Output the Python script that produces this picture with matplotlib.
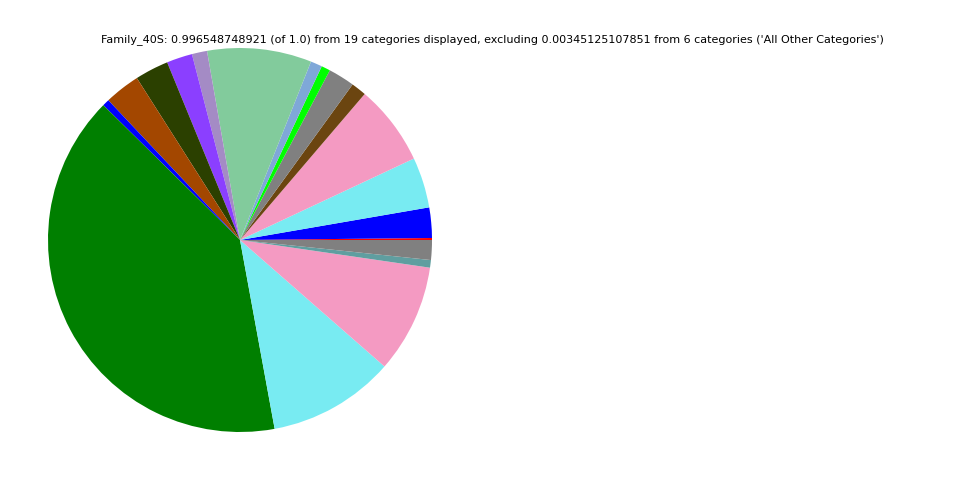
import matplotlib
matplotlib.use("Agg")
import matplotlib.pyplot as plt

# wedge sizes (degrees, normalised by the pie)
categories = ["c1", "c2", "c3", "c4", "c5", "c6", "c7", "c8", "c9", "c10",
              "c11", "c12", "c13", "c14", "c15", "c16", "c17", "c18", "c19"]
values = [0.6, 9.2, 15.3, 24.4, 4.6, 8.0, 2.7, 3.5, 31.6, 4.6,
          7.8, 10.2, 10.8, 2.1, 145.0, 38.4, 32.9, 2.3, 6.0]
colors = ["#ff0000", "#0000ff", "#78ebf2", "#f49ac2", "#6b4510", "#808080",
          "#00ff00", "#7fa8d8", "#82cb9c", "#a48bc5", "#8b3fff", "#2b4000",
          "#a34700", "#0000ff", "#007f00", "#78ebf2", "#f49ac2", "#5f9ea0",
          "#808080"]
title = ("Family_40S: 0.996548748921 (of 1.0) from 19 categories displayed, "
         "excluding 0.00345125107851 from 6 categories ('All Other Categories')")

fig = plt.figure(figsize=(9.6, 4.8), dpi=100)
ax = fig.add_axes([48 / 960, 48 / 480, 384 / 960, 384 / 480])
ax.pie(values, colors=colors, startangle=0, counterclock=True,
       wedgeprops=dict(linewidth=0))
ax.set_xlim(-1, 1)
ax.set_ylim(-1, 1)
ax.set_aspect("equal")
ax.axis("off")
fig.text(492 / 960, 1 - 40 / 480, title, ha="center", va="center", fontsize=8)
fig.savefig("out.png", dpi=100)
